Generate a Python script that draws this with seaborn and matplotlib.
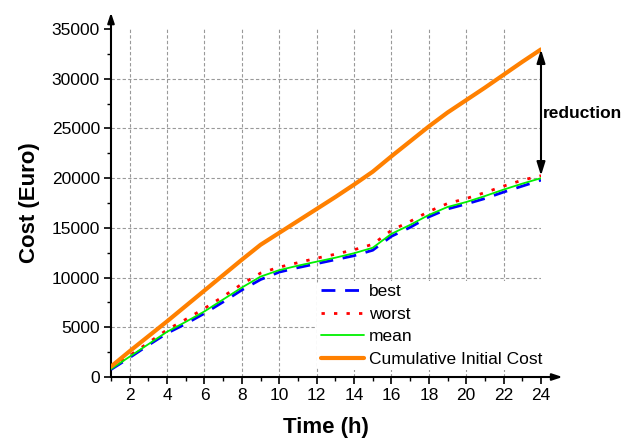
import numpy as np
import pandas as pd
import matplotlib
matplotlib.use("Agg")
import matplotlib.pyplot as plt
from matplotlib.ticker import MultipleLocator
import seaborn as sns

hours = list(range(1, 25))
best = [750, 1950, 3200, 4400, 5350, 6400, 7550, 8750, 9800, 10550, 11000, 11400,
        11800, 12200, 12750, 14150, 15050, 16100, 16900, 17400, 17950, 18600, 19200, 19800]
worst = [850, 2150, 3450, 4750, 5800, 6900, 8100, 9350, 10450, 11050, 11500, 11950,
         12350, 12800, 13350, 14750, 15650, 16650, 17450, 17950, 18550, 19200, 19800, 20250]
mean = [800, 2050, 3300, 4550, 5550, 6600, 7800, 9000, 10100, 10750, 11200, 11600,
        12000, 12450, 13000, 14400, 15300, 16300, 17100, 17600, 18200, 18850, 19450, 20000]
initial = [1050, 2600, 4100, 5600, 7150, 8700, 10250, 11800, 13300, 14500, 15700, 16900,
           18100, 19350, 20650, 22200, 23700, 25200, 26600, 27850, 29100, 30400, 31700, 32950]
labels = ["best", "worst", "mean", "Cumulative Initial Cost"]

sns.set_style("ticks")
plt.rcParams["font.family"] = ["Liberation Sans", "DejaVu Sans"]
plt.rcParams["text.color"] = "black"
plt.rcParams["axes.labelcolor"] = "black"

fig = plt.figure(figsize=(6.26, 4.41), dpi=100)
ax = fig.add_axes([0.1773, 0.1451, 0.6869, 0.7891])

df = pd.DataFrame({"hour": hours, "best": best, "worst": worst, "mean": mean, "init": initial})

sns.lineplot(data=df, x="hour", y="best", ax=ax, color="#0000ff", lw=2.0,
             label=labels[0], zorder=4)
ax.lines[-1].set_dashes([5, 3.5])
sns.lineplot(data=df, x="hour", y="worst", ax=ax, color="#ff0000", lw=2.0,
             label=labels[1], zorder=3)
ax.lines[-1].set_dashes([1.2, 3.3])
sns.lineplot(data=df, x="hour", y="mean", ax=ax, color="#00f000", lw=1.3,
             label=labels[2], zorder=5)
sns.lineplot(data=df, x="hour", y="init", ax=ax, color="#ff8000", lw=3.0,
             label=labels[3], zorder=6)

ax.set_xlim(1, 24)
ax.set_ylim(0, 35000)
ax.set_xticks(list(range(2, 25, 2)))
ax.set_yticks(list(range(0, 35001, 5000)))
ax.xaxis.set_minor_locator(MultipleLocator(1))
ax.yaxis.set_minor_locator(MultipleLocator(2500))
ax.tick_params(which="major", direction="out", length=5, width=1.2, labelsize=12.5,
               colors="black", labelcolor="black", pad=3)
ax.tick_params(which="minor", direction="out", length=3, width=1.0, colors="black")

for s in ["top", "right", "left", "bottom"]:
    ax.spines[s].set_visible(False)

# grid
for gx in range(2, 23, 2):
    ax.axvline(gx, color="#999999", ls=(0, (3, 2)), lw=0.8, zorder=0)
for gy in range(5000, 30001, 5000):
    ax.axhline(gy, color="#999999", ls=(0, (3, 2)), lw=0.8, zorder=0)

# arrow axes
ax.annotate("", xy=(0, 1.047), xytext=(0, 0), xycoords="axes fraction",
            arrowprops=dict(arrowstyle="-|>,head_length=0.6,head_width=0.2", color="black", lw=1.5,
                            shrinkA=0, shrinkB=0), annotation_clip=False)
ax.annotate("", xy=(1.05, 0), xytext=(0, 0), xycoords="axes fraction",
            arrowprops=dict(arrowstyle="-|>,head_length=0.6,head_width=0.2", color="black", lw=1.5,
                            shrinkA=0, shrinkB=0), annotation_clip=False)

# reduction arrow
ax.annotate("", xy=(24, initial[-1]), xytext=(24, worst[-1]), xycoords="data",
            arrowprops=dict(arrowstyle="<|-|>,head_length=0.8,head_width=0.25", color="black",
                            lw=1.5, shrinkA=0, shrinkB=0), annotation_clip=False, zorder=7)
ax.text(24.1, 26500, "reduction", fontsize=12.5, fontweight="bold", ha="left",
        va="center", clip_on=False)

ax.set_xlabel("Time (h)", fontsize=16, fontweight="bold", labelpad=10)
ax.set_ylabel("Cost (Euro)", fontsize=16, fontweight="bold", labelpad=8)

leg = ax.legend(loc="lower right", bbox_to_anchor=(1.02, 0.01), fontsize=12.5,
                frameon=True, framealpha=1, facecolor="white", edgecolor="none",
                handlelength=2.5, handletextpad=0.3, labelspacing=0.42,
                borderpad=0.2, borderaxespad=0.2)
leg.set_zorder(10)

fig.savefig("out.png", dpi=100)
